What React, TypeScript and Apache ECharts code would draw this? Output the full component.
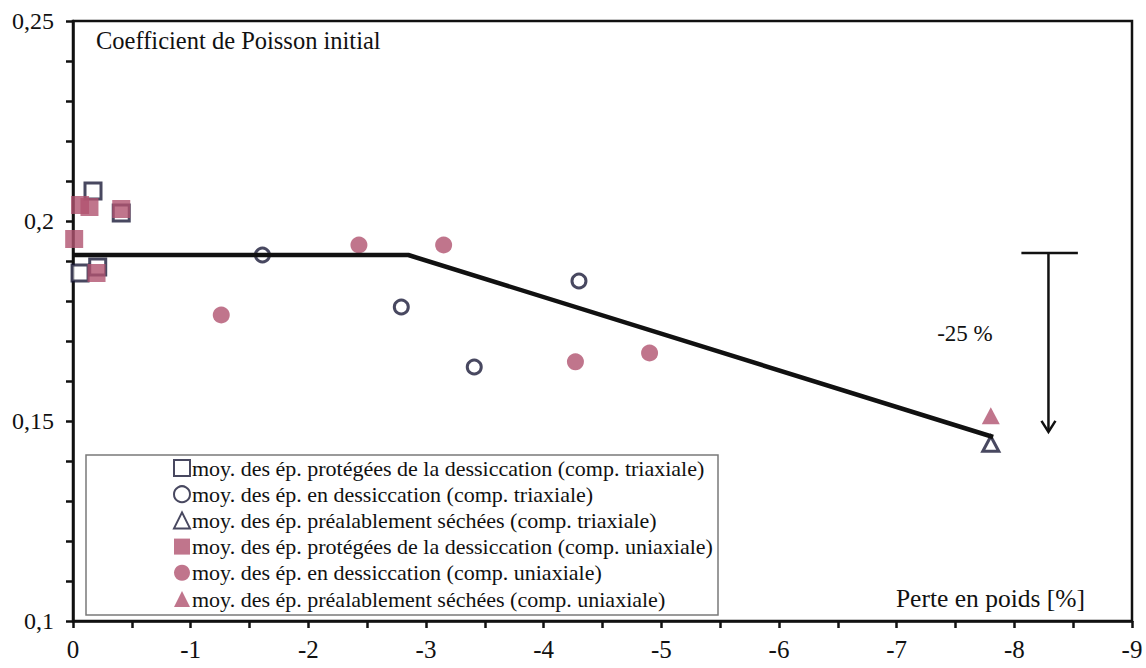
import React, { useEffect, useRef } from "react";
import * as echarts from "echarts";

// ---- data ----
const seriesNames = [
  "moy. des ép. protégées de la dessiccation (comp. triaxiale)",
  "moy. des ép. en dessiccation (comp. triaxiale)",
  "moy. des ép. préalablement séchées (comp. triaxiale)",
  "moy. des ép. protégées de la dessiccation (comp. uniaxiale)",
  "moy. des ép. en dessiccation (comp. uniaxiale)",
  "moy. des ép. préalablement séchées (comp. uniaxiale)",
];

const triSquareX = [-0.06, -0.17, -0.21, -0.41];
const triSquareY = [0.187, 0.2075, 0.1885, 0.202];
const triCircleX = [-1.61, -2.79, -3.41, -4.3];
const triCircleY = [0.1915, 0.1785, 0.1635, 0.185];
const triTriangleX = [-7.8];
const triTriangleY = [0.1443];

const uniSquareX = [-0.01, -0.06, -0.14, -0.41, -0.2];
const uniSquareY = [0.1955, 0.204, 0.2035, 0.203, 0.187];
const uniCircleX = [-1.26, -2.43, -3.15, -4.27, -4.9];
const uniCircleY = [0.1765, 0.194, 0.194, 0.1648, 0.167];
const uniTriangleX = [-7.8];
const uniTriangleY = [0.1513];

const trendX = [0, -2.85, -7.82];
const trendY = [0.1915, 0.1915, 0.146];

// arrow annotation: x, top y, bottom y, bar left x, bar right x
const arrowX = -8.29;
const arrowTopY = 0.192;
const arrowBottomY = 0.1473;
const arrowBarX = [-8.06, -8.54];
const annotationText = "-25 %";
const annotationPos = [-7.58, 0.172];

const titleText = "Coefficient de Poisson initial";
const xAxisTitle = "Perte en poids [%]";

const zip = (xs: number[], ys: number[]) => xs.map((x, i) => [x, ys[i]]);

const NAVY = "#1a1a38";
const MAROON = "#b0536f";
const FONT = "Liberation Serif";

export default function App() {
  const ref = useRef<HTMLDivElement>(null);

  useEffect(() => {
    if (!ref.current) return;
    const chart = echarts.init(ref.current, undefined, { renderer: "svg" });

    const openStyle = { color: "#ffffff", borderColor: NAVY, borderWidth: 3 };
    const fillStyle = { color: MAROON };

    const option: any = {
      animation: false,
      backgroundColor: "#ffffff",
      textStyle: { fontFamily: FONT },
      title: [
        {
          text: titleText,
          left: 96,
          top: 28,
          padding: 0,
          textStyle: { fontFamily: FONT, fontSize: 24.5, fontWeight: "normal", color: "#111" },
        },
        {
          text: xAxisTitle,
          right: 61,
          top: 585,
          padding: 0,
          textStyle: { fontFamily: FONT, fontSize: 25.5, fontWeight: "normal", color: "#111" },
        },
      ],
      grid: {
        left: 73,
        right: 14,
        top: 21,
        bottom: 47,
        show: true,
        borderColor: "#111",
        borderWidth: 2.5,
        backgroundColor: "transparent",
      },
      xAxis: {
        type: "value",
        min: -9,
        max: 0,
        inverse: true,
        interval: 0.5,
        splitLine: { show: false },
        axisLine: { show: true, onZero: false, lineStyle: { color: "#111", width: 2.5 } },
        axisTick: { show: true, length: 7, lineStyle: { color: "#111", width: 2.5 } },
        axisLabel: {
          margin: 16,
          fontFamily: FONT,
          fontSize: 25,
          color: "#111",
          formatter: (v: number) =>
            Math.abs(v - Math.round(v)) < 1e-6 ? String(Math.round(v) === 0 ? 0 : Math.round(v)) : "",
        },
      },
      yAxis: {
        type: "value",
        min: 0.1,
        max: 0.25,
        interval: 0.01,
        splitLine: { show: false },
        axisLine: { show: true, onZero: false, lineStyle: { color: "#111", width: 2.5 } },
        axisTick: { show: true, length: 7, lineStyle: { color: "#111", width: 2.5 } },
        axisLabel: {
          margin: 19,
          fontFamily: FONT,
          fontSize: 24,
          color: "#111",
          showMinLabel: true,
          showMaxLabel: true,
          formatter: (v: number) => {
            const k = Math.round(v * 100);
            if (k % 5 !== 0) return "";
            return String(k / 100).replace(".", ",");
          },
        },
      },
      legend: {
        orient: "vertical",
        left: 173,
        top: 457,
        padding: 0,
        itemGap: 4.2,
        itemWidth: 16,
        itemHeight: 16,
        z: 10,
        data: seriesNames,
        textStyle: { fontFamily: FONT, fontSize: 22, color: "#111", lineHeight: 22, padding: [0, 0, 0, -3] },
      },
      graphic: [
        {
          type: "rect",
          z: 5,
          zlevel: 0,
          shape: { x: 86, y: 455, width: 632, height: 160 },
          style: { fill: "#ffffff", stroke: "#7a7a7a", lineWidth: 1.5 },
        },
      ],
      series: [
        {
          name: "trend",
          type: "line",
          data: zip(trendX, trendY),
          symbol: "none",
          z: 4,
          lineStyle: { color: "#111", width: 4.5 },
          silent: true,
        },
        {
          name: seriesNames[0],
          type: "scatter",
          symbol: "rect",
          symbolSize: 16,
          data: zip(triSquareX, triSquareY),
          itemStyle: openStyle,
          z: 2,
        },
        {
          name: seriesNames[1],
          type: "scatter",
          symbol: "circle",
          symbolSize: 14,
          data: zip(triCircleX, triCircleY),
          itemStyle: openStyle,
          z: 2,
        },
        {
          name: seriesNames[2],
          type: "scatter",
          symbol: "triangle",
          symbolSize: [16, 15],
          data: zip(triTriangleX, triTriangleY),
          itemStyle: openStyle,
          z: 2,
        },
        {
          name: seriesNames[3],
          type: "scatter",
          symbol: "rect",
          symbolSize: 18,
          data: zip(uniSquareX, uniSquareY),
          itemStyle: fillStyle,
          z: 3,
        },
        {
          name: seriesNames[4],
          type: "scatter",
          symbol: "circle",
          symbolSize: 17,
          data: zip(uniCircleX, uniCircleY),
          itemStyle: fillStyle,
          z: 3,
        },
        {
          name: seriesNames[5],
          type: "scatter",
          symbol: "triangle",
          symbolSize: [18, 17],
          data: zip(uniTriangleX, uniTriangleY),
          itemStyle: fillStyle,
          z: 3,
        },
        {
          name: "annotation",
          type: "custom",
          silent: true,
          z: 4,
          data: [[arrowX, arrowTopY, arrowBottomY, arrowBarX[0], arrowBarX[1], annotationPos[0], annotationPos[1]]],
          renderItem: (params: any, api: any) => {
            const top = api.coord([api.value(0), api.value(1)]);
            const bot = api.coord([api.value(0), api.value(2)]);
            const l = api.coord([api.value(3), api.value(1)]);
            const r = api.coord([api.value(4), api.value(1)]);
            const t = api.coord([api.value(5), api.value(6)]);
            const stroke = { stroke: "#111", lineWidth: 2.5, fill: "none" };
            return {
              type: "group",
              children: [
                { type: "line", shape: { x1: l[0], y1: l[1], x2: r[0], y2: r[1] }, style: stroke },
                { type: "line", shape: { x1: top[0], y1: top[1], x2: bot[0], y2: bot[1] }, style: stroke },
                {
                  type: "polyline",
                  shape: { points: [[bot[0] - 7, bot[1] - 11], [bot[0], bot[1]], [bot[0] + 7, bot[1] - 11]] },
                  style: stroke,
                },
                {
                  type: "text",
                  x: t[0],
                  y: t[1],
                  style: {
                    text: annotationText,
                    fontFamily: FONT,
                    fontSize: 23,
                    fill: "#111",
                    align: "center",
                    verticalAlign: "middle",
                  },
                },
              ],
            };
          },
        },
      ],
    };

    chart.setOption(option);
    return () => chart.dispose();
  }, []);

  return (
    <div
      ref={ref}
      style={{ position: "fixed", left: 0, top: 0, width: 1146, height: 668, background: "#fff" }}
    />
  );
}
